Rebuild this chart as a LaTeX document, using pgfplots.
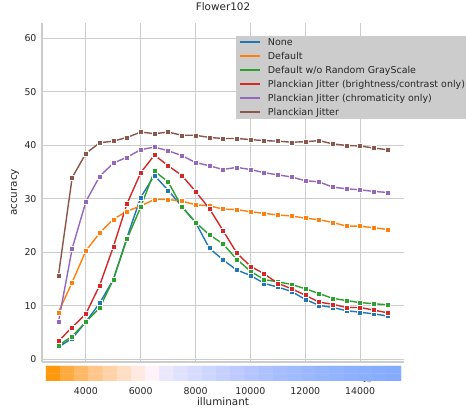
\documentclass[border=0pt]{standalone}
\usepackage{pgfplots}
\pgfplotsset{compat=1.18}
\usepackage{pgfplotstable}
\usepackage{fontspec}
\setmainfont{DejaVu Sans}

\definecolor{textc}{gray}{0.15}
\definecolor{gridc}{gray}{0.8}
\definecolor{legc}{gray}{0.8}
\definecolor{c0}{HTML}{1F77B4}
\definecolor{c1}{HTML}{FF7F0E}
\definecolor{c2}{HTML}{2CA02C}
\definecolor{c3}{HTML}{D62728}
\definecolor{c4}{HTML}{9467BD}
\definecolor{c5}{HTML}{8C564B}

% accuracy per illuminant
\pgfplotstableread{
x     none  def   nogray bc    chrom pj
3000  2.3   8.8   2.6    3.4   7.0   15.7
3500  3.9   14.4  4.3    6.0   20.7  34.0
4000  7.0   20.3  7.0    8.5   29.5  38.5
4500  10.5  23.6  9.6    13.8  34.2  40.5
5000  14.9  26.2  14.9   21.0  36.7  40.8
5500  22.8  27.7  22.5   29.1  37.8  41.5
6000  30.3  28.7  28.5   34.9  39.2  42.5
6500  34.4  29.9  35.2   38.2  39.7  42.2
7000  31.6  29.9  33.2   36.2  39.0  42.5
7500  28.6  29.6  28.5   34.4  38.1  41.9
8000  25.6  28.9  25.6   31.4  36.8  41.9
8500  20.8  28.7  23.3   28.2  36.2  41.5
9000  18.6  28.1  21.6   24.1  35.5  41.3
9500  16.7  28.0  18.7   19.9  35.9  41.3
10000 15.7  27.6  16.5   17.4  35.5  41.1
10500 14.2  27.3  14.9   16.0  34.9  40.9
11000 13.5  27.0  14.5   14.2  34.5  40.8
11500 12.7  26.8  14.0   13.2  34.1  40.6
12000 11.2  26.4  13.2   12.0  33.4  40.7
12500 10.1  26.1  12.3   10.7  33.2  40.9
13000 9.7   25.6  11.4   10.3  32.2  40.3
13500 9.1   24.9  11.0   9.7   31.9  40.0
14000 8.8   24.9  10.6   9.7   31.7  39.9
14500 8.5   24.6  10.4   9.2   31.4  39.5
15000 8.1   24.3  10.2   8.7   31.2  39.2
}\acc

% colour strip, one cell per illuminant
\pgfplotstableread{
x     y c
2805  0 0
3323  0 1
3841  0 2
4358  0 3
4876  0 4
5394  0 5
5912  0 6
6430  0 7
6947  0 8
7465  0 9
7983  0 10
8501  0 11
9019  0 12
9536  0 13
10054 0 14
10572 0 15
11090 0 16
11608 0 17
12125 0 18
12643 0 19
13161 0 20
13679 0 21
14197 0 22
14714 0 23
15232 0 24
2805  1 0
3323  1 1
3841  1 2
4358  1 3
4876  1 4
5394  1 5
5912  1 6
6430  1 7
6947  1 8
7465  1 9
7983  1 10
8501  1 11
9019  1 12
9536  1 13
10054 1 14
10572 1 15
11090 1 16
11608 1 17
12125 1 18
12643 1 19
13161 1 20
13679 1 21
14197 1 22
14714 1 23
15232 1 24
}\strip

\pgfplotsset{
  colormap={illum}{
    rgb255=(255,152,10) rgb255=(255,170,62) rgb255=(255,185,102) rgb255=(255,198,140)
    rgb255=(255,210,168) rgb255=(255,222,196) rgb255=(255,233,225) rgb255=(255,242,250)
    rgb255=(236,232,252) rgb255=(224,226,253) rgb255=(214,220,255) rgb255=(205,214,255)
    rgb255=(197,208,255) rgb255=(188,202,255) rgb255=(180,197,255) rgb255=(173,193,255)
    rgb255=(166,190,255) rgb255=(160,187,255) rgb255=(155,184,255) rgb255=(150,181,255)
    rgb255=(146,179,255) rgb255=(142,177,255) rgb255=(139,175,255) rgb255=(136,173,255)
    rgb255=(133,171,255)
  },
  acc/.style={color=#1, line width=1.4pt, mark=square*, mark size=2.5pt,
    mark options={draw=white, line width=0.4pt, fill=#1}},
}

\begin{document}
\begin{tikzpicture}
\begin{axis}[
  name=main, at={(0pt,0pt)}, anchor=south west,
  scale only axis, width=362pt, height=339pt,
  xmin=2400, xmax=15600, ymin=-0.5, ymax=62.9,
  xtick={4000,6000,...,14000}, xticklabel=\empty,
  ytick={0,10,...,60},
  grid=major, major grid style={gridc, line width=1pt},
  axis x line*=bottom, axis y line*=left,
  axis line style={-, gridc, line width=1.25pt},
  major tick length=0pt,
  tick label style={font=\fontsize{9.4}{11}\selectfont, text=textc},
  yticklabel style={xshift=-2pt},
  /pgf/number format/assume math mode=true,
  title={Flower102},
  title style={at={(axis description cs:0.5,1)}, anchor=base, yshift=6pt,
    font=\fontsize{10.4}{12}\selectfont, text=textc},
  ylabel={accuracy},
  ylabel style={at={(axis description cs:-0.0746,0.5)}, anchor=center,
    font=\fontsize{10.4}{12}\selectfont, text=textc},
]
\addplot[acc=c0] table[x=x, y=none] {\acc};
\addplot[acc=c1] table[x=x, y=def] {\acc};
\addplot[acc=c2] table[x=x, y=nogray] {\acc};
\addplot[acc=c3] table[x=x, y=bc] {\acc};
\addplot[acc=c4] table[x=x, y=chrom] {\acc};
\addplot[acc=c5] table[x=x, y=pj] {\acc};
\end{axis}

% legend
\fill[legc] (194pt,243pt) rectangle (440pt,326pt);
\fill[c0] (198pt,319.3pt) rectangle (218pt,321.3pt);
\fill[c1] (198pt,305.3pt) rectangle (218pt,307.3pt);
\fill[c2] (198pt,291.3pt) rectangle (218pt,293.3pt);
\fill[c3] (198pt,277.3pt) rectangle (218pt,279.3pt);
\fill[c4] (198pt,263.3pt) rectangle (218pt,265.3pt);
\fill[c5] (198pt,249.3pt) rectangle (218pt,251.3pt);
\begin{scope}[every node/.style={anchor=base west, inner sep=0pt, text=textc,
    font=\fontsize{9.5}{11}\selectfont}]
\node at (225.7pt,316.8pt) {None};
\node at (225.7pt,302.8pt) {Default};
\node at (225.7pt,288.8pt) {Default w/o Random GrayScale};
\node at (225.7pt,274.8pt) {Planckian Jitter (brightness/contrast only)};
\node at (225.7pt,260.8pt) {Planckian Jitter (chromaticity only)};
\node at (225.7pt,246.8pt) {Planckian Jitter};
\end{scope}

\begin{axis}[
  at={(0pt,-19pt)}, anchor=south west,
  scale only axis, width=362pt, height=15pt,
  xmin=2400, xmax=15600, ymin=-0.5, ymax=1.5,
  enlargelimits=false,
  axis line style={draw=none},
  ytick=\empty, xtick={4000,6000,...,14000},
  major tick length=0pt,
  /pgf/number format/1000 sep={},
  /pgf/number format/assume math mode=true,
  scaled x ticks=false,
  xticklabel style={anchor=base, yshift=-14pt,
    font=\fontsize{9.4}{11}\selectfont, text=textc},
  xlabel={illuminant},
  xlabel style={at={(axis description cs:0.5,0)}, anchor=base, yshift=-25pt,
    font=\fontsize{10.4}{12}\selectfont, text=textc},
  colormap name=illum, colormap access=direct,
]
\addplot[matrix plot*, mesh/cols=25, point meta=explicit] table[x=x, y=y, meta=c] {\strip};
\end{axis}
\pgfresetboundingbox
\path[use as bounding box] (-42pt,-47pt) rectangle (424pt,362pt);
\end{tikzpicture}
\end{document}
